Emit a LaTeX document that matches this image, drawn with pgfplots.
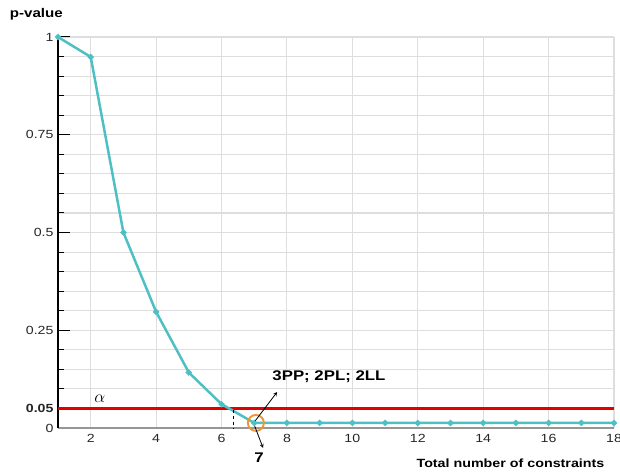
\documentclass[border=0pt]{standalone}
\usepackage{pgfplots}
\pgfplotsset{compat=1.18}
\usepackage{fontspec}
\setmainfont{Liberation Sans}[FakeStretch=1.2]
\definecolor{teal1}{RGB}{78,192,196}
\definecolor{red1}{RGB}{225,0,0}
\definecolor{orange1}{RGB}{238,150,50}
\definecolor{grid1}{RGB}{222,222,222}
\definecolor{axgray}{RGB}{150,150,150}
\begin{document}
\begin{tikzpicture}
\useasboundingbox (0,0) rectangle (620pt,474pt);
\begin{axis}[
  at={(58pt,46pt)}, anchor=south west,
  scale only axis, width=556pt, height=391pt,
  xmin=1, xmax=18, ymin=0, ymax=1,
  clip=false,
  axis x line=bottom, axis y line=left,
  x axis line style={-, draw=axgray, line width=2.4pt},
  y axis line style={-, draw=black, line width=1.1pt},
  xtick={2,4,...,18},
  major x tick style={draw=none},
  ytick={0,0.25,0.5,0.75,1},
  yticklabels={0,0.25,0.5,0.75,1},
  minor y tick num=4,
  extra y ticks={0.05},
  extra y tick labels={\textbf{0.05}},
  extra y tick style={major tick length=0pt, grid=none},
  ytick style={draw=black, line width=1pt},
  major tick length=12pt, minor tick length=6pt,
  tick align=inside,
  grid=both,
  major grid style={draw=grid1, line width=1.1pt},
  minor grid style={draw=grid1, line width=1.1pt},
  /pgf/number format/assume math mode=true,
  tick label style={font=\fontsize{11.8}{13}\selectfont, text=black!85},
  xticklabel style={yshift=-3pt},
  yticklabel style={xshift=-1pt},
]
\addplot[red1, line width=2.1pt, forget plot] coordinates {(1,0.05) (18,0.05)};
\addplot[teal1, line width=2.5pt, mark=*, mark size=1.6pt, mark options={fill=teal1, draw=teal1}] coordinates {
(1,1.0) (2,0.949) (3,0.50) (4,0.297) (5,0.142) (6,0.061) (7,0.013)
(8,0.013) (9,0.013) (10,0.013) (11,0.013) (12,0.013) (13,0.013) (14,0.013)
(15,0.013) (16,0.013) (17,0.013) (18,0.013)};
\draw[black, dashed, line width=1pt] (axis cs:6.38,0.047) -- (axis cs:6.38,0.0);
\draw[orange1, line width=1.9pt] (axis cs:7.05,0.013) circle[radius=8pt];
\draw[-stealth, black, line width=0.8pt] (axis cs:7.0,0.015) -- (axis cs:7.70,0.092);
\draw[-stealth, black, line width=0.8pt] (axis cs:7.0,0.008) -- (axis cs:7.27,-0.051);
\node[anchor=west, font=\bfseries\fontsize{14}{16}\selectfont] at (axis cs:7.45,0.130) {3PP; 2PL; 2LL};
\node[font=\bfseries\fontsize{14}{16}\selectfont] at (axis cs:7.15,-0.077) {7};
\node[font=\fontsize{18}{20}\selectfont] at (axis cs:2.28,0.074) {$\alpha$};
\node[anchor=west, font=\bfseries\fontsize{12.6}{14}\selectfont] at (rel axis cs:-0.093,1.059) {p-value};
\node[anchor=east, font=\bfseries\fontsize{11.9}{14}\selectfont] at (rel axis cs:0.989,-0.0895) {Total number of constraints};
\end{axis}
\end{tikzpicture}
\end{document}
